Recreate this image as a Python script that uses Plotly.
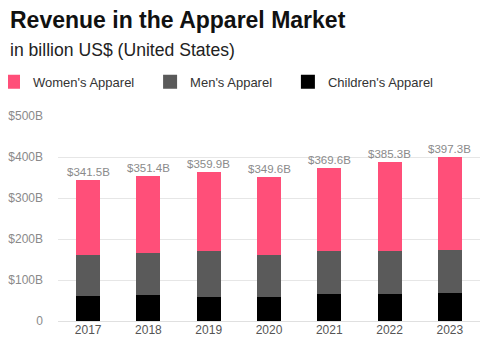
import plotly.graph_objects as go

years = ["2017", "2018", "2019", "2020", "2021", "2022", "2023"]
totals = [341.5, 351.4, 359.9, 349.6, 369.6, 385.3, 397.3]
children = [63, 67, 62, 60, 68, 68, 70]
men = [100, 101, 110, 104, 104, 105, 106]
women = [round(t - m - c, 1) for t, m, c in zip(totals, men, children)]
total_labels = ["$%.1fB" % t for t in totals]
y_ticks = [0, 100, 200, 300, 400, 500]
y_tick_labels = ["0", "$100B", "$200B", "$300B", "$400B", "$500B"]

FONT = "Liberation Sans, Arial, sans-serif"
PAD = "\u00a0\u00a0\u00a0"
C_CHILD, C_MEN, C_WOMEN = "#000000", "#5A5A5A", "#FF4F79"

fig = go.Figure()
fig.add_trace(go.Bar(x=years, y=children, name="Children's Apparel",
                     marker=dict(color=C_CHILD, line=dict(color=C_CHILD, width=2))))
fig.add_trace(go.Bar(x=years, y=men, name="Men's Apparel" + PAD,
                     marker=dict(color=C_MEN, line=dict(color=C_MEN, width=2))))
fig.add_trace(go.Bar(x=years, y=women, name="Women's Apparel" + PAD,
                     marker=dict(color=C_WOMEN, line=dict(color=C_WOMEN, width=2))))

annotations = [
    dict(text="<b>Revenue in the Apparel Market</b>", xref="paper", yref="paper",
         x=-0.1185, y=1.467, xanchor="left", yanchor="middle", showarrow=False,
         font=dict(family=FONT, size=23, color="#111111")),
    dict(text="in billion US$ (United States)", xref="paper", yref="paper",
         x=-0.1185, y=1.32, xanchor="left", yanchor="middle", showarrow=False,
         font=dict(family=FONT, size=17.6, color="#222222")),
]
for i, (tot, lab) in enumerate(zip(totals, total_labels)):
    annotations.append(dict(x=i, y=tot, xref="x", yref="y", text=lab, showarrow=False,
                            xanchor="center", yanchor="bottom", yshift=1,
                            font=dict(family=FONT, size=11.5, color="#8a8a8a")))

fig.update_layout(
    width=492, height=350,
    barmode="stack", bargap=0.635,
    plot_bgcolor="white", paper_bgcolor="white",
    margin=dict(l=50, r=20, t=108, b=37, autoexpand=False),
    font=dict(family=FONT, color="#555555"),
    legend=dict(orientation="h", xref="paper", yref="paper",
                x=-0.154, y=1.167, xanchor="left", yanchor="middle",
                traceorder="reversed", itemsizing="constant",
                font=dict(family=FONT, size=13, color="#333333")),
    annotations=annotations,
)
fig.update_xaxes(type="category", range=[-0.5, len(years) - 0.5],
                 showgrid=False, showline=False, ticks="",
                 tickfont=dict(family=FONT, size=12, color="#555555"))
fig.update_yaxes(range=[0, 500], tickvals=y_ticks, ticktext=y_tick_labels,
                 showgrid=True, gridcolor="#e6e6e6", gridwidth=1,
                 zeroline=True, zerolinecolor="#e0e0e0", zerolinewidth=1,
                 ticklabelstandoff=14,
                 tickfont=dict(family=FONT, size=12, color="#8a8a8a"))

fig.write_html("out.html")
